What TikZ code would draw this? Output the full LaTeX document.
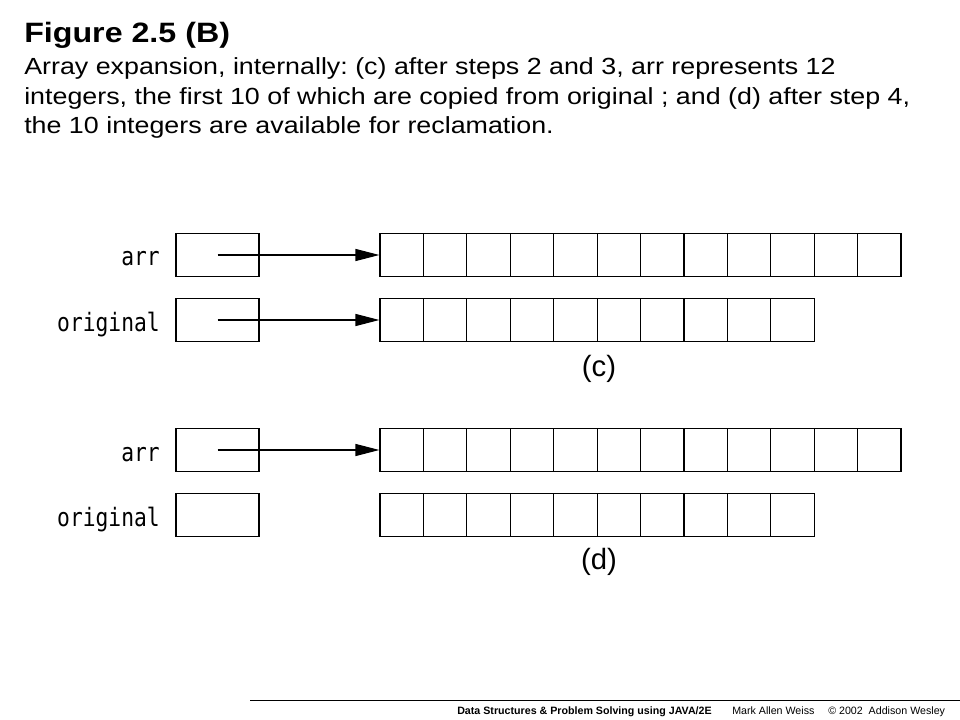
\documentclass[tikz,border=0pt]{standalone}
\usepackage{fontspec}
\setmainfont{Liberation Sans}
\newfontfamily\capfont[FakeStretch=1.15]{Liberation Sans}
\newfontfamily\codefont[FakeStretch=0.84]{DejaVu Sans Mono}
\usetikzlibrary{arrows.meta}
\frenchspacing

\begin{document}
\begin{tikzpicture}[x=0.75pt,y=-0.75pt]
\useasboundingbox (0,0) rectangle (960,720);
\tikzstyle{cell}=[draw, line width=0.9pt, minimum width=32.56pt, minimum height=32.25pt, inner sep=0pt]
\tikzstyle{ref}=[draw, line width=0.9pt, minimum width=62.25pt, minimum height=32.25pt, inner sep=0pt]
\tikzstyle{var}=[anchor=base east, inner sep=0pt, font=\codefont\fontsize{19}{19}\selectfont]
\tikzstyle{tag}=[anchor=base, inner sep=0pt, font=\fontsize{22}{22}\selectfont]
\tikzstyle{line}=[anchor=base west, inner sep=0pt, font=\capfont\fontsize{17.5}{20}\selectfont]
\tikzstyle{ptr}=[line width=0.9pt, -{Triangle[length=18pt,width=9pt]}]

% caption
\node[anchor=base west, inner sep=0pt, font=\capfont\bfseries\fontsize{21}{25}\selectfont] (title) at (24,43) {Figure 2.5 (B)};
\node[line] (cap1) at (24,75) {Array expansion, internally: (c) after steps 2 and 3, arr represents 12};
\node[line] (cap2) at (24,105) {integers, the first 10 of which are copied from original ; and (d) after step 4,};
\node[line] (cap3) at (24,134) {the 10 integers are available for reclamation.};

% (c)
\foreach \i in {1,...,12} \node[cell] (carr\i) at ({380+43.42*(\i-0.5)},255) {};
\foreach \i in {1,...,10} \node[cell] (corig\i) at ({380+43.42*(\i-0.5)},320) {};
\node[ref] (parr1) at (217.5,255) {};
\node[ref] (porig1) at (217.5,320) {};
\node[var] (larr1) at (160,266) {arr};
\node[var] (lorig1) at (160,331) {original};
\draw[ptr] (parr1.center) -- (carr1.west);
\draw[ptr] (porig1.center) -- (corig1.west);
\node[tag] (tagc) at (599,376) {(c)};

% (d)
\foreach \i in {1,...,12} \node[cell] (darr\i) at ({380+43.42*(\i-0.5)},450) {};
\foreach \i in {1,...,10} \node[cell] (dorig\i) at ({380+43.42*(\i-0.5)},515) {};
\node[ref] (parr2) at (217.5,450) {};
\node[ref] (porig2) at (217.5,515) {};
\node[var] (larr2) at (160,461) {arr};
\node[var] (lorig2) at (160,526) {original};
\draw[ptr] (parr2.center) -- (darr1.west);
\node[tag] (tagd) at (599,569) {(d)};

% footer
\draw[line width=0.8pt] (250,700.7) coordinate (rulel) -- (960,700.7) coordinate (ruler);
\node[anchor=base west, inner sep=0pt, font=\bfseries\fontsize{8}{8}\selectfont] (book) at (457,714) {Data Structures \& Problem Solving using JAVA/2E};
\node[anchor=base west, inner sep=0pt, font=\fontsize{8}{8}\selectfont] (author) at (732,714) {Mark Allen Weiss};
\node[anchor=base west, inner sep=0pt, font=\fontsize{8}{8}\selectfont] (copy) at (828,714) {\textcopyright{} 2002 \ Addison Wesley};
\end{tikzpicture}
\end{document}
